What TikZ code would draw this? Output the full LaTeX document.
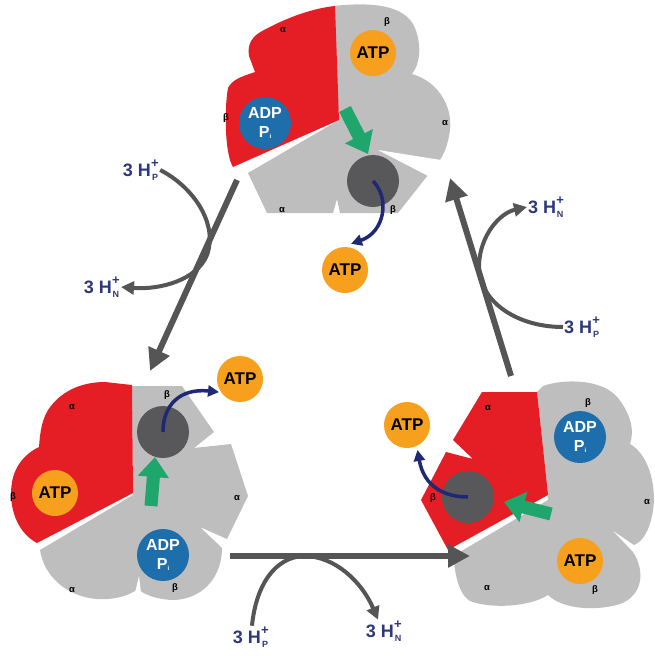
\documentclass[tikz,border=0pt]{standalone}
\usepackage{fontspec}
\setmainfont{Liberation Sans}
\usetikzlibrary{arrows.meta}

\definecolor{subred}{RGB}{228,30,36}
\definecolor{subgray}{RGB}{190,190,190}
\definecolor{coregray}{RGB}{88,88,90}
\definecolor{atporange}{RGB}{246,160,30}
\definecolor{adpblue}{RGB}{30,110,172}
\definecolor{pushgreen}{RGB}{30,166,108}
\definecolor{flowgray}{RGB}{85,85,85}
\definecolor{navyarrow}{RGB}{30,40,115}
\definecolor{protonblue}{RGB}{45,55,125}

% "3 H" with a stacked superscript + and a side subscript (P or N)
\newcommand\protons[1]{3 H\raisebox{-0.2em}{\makebox[8pt][c]{\fontsize{9}{9}\selectfont #1}}\hspace{-8pt}\raisebox{0.5em}{\makebox[8pt][c]{\fontsize{13}{13}\selectfont +}}}
% inorganic phosphate with a small subscript i
\newcommand\phosph{P\raisebox{-0.1em}{\fontsize{6}{6}\selectfont i}}

\tikzset{
  atp/.style={circle, fill=atporange, minimum size=46pt, inner sep=0pt,
    font=\fontsize{17}{17}\selectfont\bfseries, text=black},
  adp/.style={circle, fill=adpblue, minimum size=52pt, inner sep=0pt,
    font=\fontsize{16}{19}\selectfont\bfseries, text=white, align=center},
  core/.style={circle, fill=coregray, minimum size=52pt, inner sep=0pt},
  sub/.style={font=\fontsize{9.5}{9.5}\selectfont\bfseries, inner sep=0pt},
  lobe/.style={fill=subgray},
  redpair/.style={fill=subred},
  gap/.style={fill=white},
  flow/.style={draw=flowgray, line width=6pt, -{Triangle[width=22pt,length=22pt]}},
  side/.style={draw=flowgray, line width=4pt, -{Triangle[width=13pt,length=13pt]}},
  release/.style={draw=navyarrow, line width=3.5pt, -{Triangle[width=11pt,length=11pt]}},
  push/.style={draw=pushgreen, line width=13pt, -{Triangle[width=30pt,length=20pt]}},
  proton/.style={text=protonblue, font=\fontsize{18}{18}\selectfont\bfseries, inner sep=1pt},
}

\begin{document}
\begin{tikzpicture}[x=1pt,y=-1pt]
\useasboundingbox (0,0) rectangle (654,656);

% ---------- top F1 head ----------
\path[lobe] (333,6) .. controls (370,2) and (405,4) .. (415,28)
  .. controls (422,46) and (420,64) .. (412,74)
  .. controls (440,82) and (455,110) .. (449,136)
  .. controls (446,152) and (440,162) .. (434,166)
  -- (428,175) -- (398,213) -- (340,213) -- (337,199) -- (333,213)
  -- (267,213) -- (248,173) -- (339,120) -- cycle;
\path[gap] (441,160) -- (432,178) -- (378,150) -- cycle;
\path[redpair] (335,6) -- (339,120) -- (233,167)
  .. controls (225,155) and (224,110) .. (228,88)
  .. controls (232,80) and (240,77) .. (255,72)
  -- (249,56) .. controls (247,44) and (252,36) .. (264,30)
  .. controls (290,16) and (315,8) .. (335,6) -- cycle;
\node[core] (coreT) at (373,181) {};
\node[atp] (atpT) at (373,53) {ATP};
\node[adp] (adpT) at (265,123) {ADP\\\phosph};
\draw[push] (345,109) -- (368,154);
\node[sub] (tA1) at (283,30) {α};
\node[sub] (tB1) at (387,22) {β};
\node[sub] (tA2) at (445,123) {α};
\node[sub] (tB2) at (226,118) {β};
\node[sub] (tA3) at (282,210) {α};
\node[sub] (tB3) at (393,210) {β};
\node[atp] (atpTout) at (345,270) {ATP};
\draw[release] (coreT.center) .. controls (390,198) and (385,232) .. ([xshift=6pt,yshift=3pt]atpTout.north);

% ---------- lower left F1 head ----------
\path[lobe] (132,386) -- (182,386) -- (214,432) -- (194,448) -- (231,444)
  -- (248,496) -- (227,539) -- (200,527) -- (222,548)
  .. controls (222,575) and (205,598) .. (175,600)
  .. controls (160,600) and (146,596) .. (138,589)
  .. controls (127,597) and (112,600) .. (96,599)
  .. controls (66,596) and (44,576) .. (40,550)
  -- (133,495) -- cycle;
\path[gap] (135,593) -- (141,593) -- (139,576) -- cycle;
\path[redpair] (132,385) -- (133,493) -- (37,543)
  .. controls (16,532) and (8,505) .. (12,482)
  .. controls (15,465) and (26,453) .. (39,447)
  .. controls (40,432) and (42,420) .. (48,410)
  .. controls (60,392) and (80,382) .. (105,382) -- cycle;
\node[core] (coreL) at (163,432) {};
\node[atp] (atpL) at (55,493) {ATP};
\node[adp] (adpL) at (163,555) {ADP\\\phosph};
\draw[push] (151,506) -- (155,457);
\node[sub] (lA1) at (72,407) {α};
\node[sub] (lB1) at (13,497) {β};
\node[sub] (lB2) at (167,395) {β};
\node[sub] (lA2) at (237,498) {α};
\node[sub] (lA3) at (72,590) {α};
\node[sub] (lB3) at (175,588) {β};
\node[atp] (atpLout) at (240,379) {ATP};
\draw[release, shorten >=2pt] (coreL.center) .. controls (163,405) and (180,388) .. (atpLout.215);

% ---------- lower right F1 head ----------
\path[lobe] (537,392) -- (543,386) .. controls (562,379) and (602,378) .. (618,398)
  .. controls (630,413) and (635,430) .. (630,444)
  .. controls (650,455) and (659,492) .. (651,520)
  .. controls (647,535) and (641,542) .. (634,545)
  -- (612,530) -- (633,552)
  .. controls (646,572) and (642,596) .. (620,604)
  .. controls (598,611) and (563,610) .. (548,595)
  .. controls (530,607) and (490,609) .. (470,601)
  .. controls (457,593) and (455,570) .. (453,556)
  -- (548,500) -- cycle;
\path[redpair] (482,392) -- (537,392) -- (548,495) -- (448,550) -- (421,500)
  -- (446,452) -- (473,459) -- (453,440) -- cycle;
\node[core] (coreR) at (468,497) {};
\node[atp] (atpR) at (580,561) {ATP};
\node[adp] (adpR) at (580,437) {ADP\\\phosph};
\draw[push] (551,514) -- (504,502);
\node[sub] (rA1) at (488,408) {α};
\node[sub] (rB1) at (433,498) {β};
\node[sub] (rB2) at (588,403) {β};
\node[sub] (rA2) at (647,502) {α};
\node[sub] (rA3) at (487,588) {α};
\node[sub] (rB3) at (595,590) {β};
\node[atp] (atpRout) at (407,425) {ATP};
\draw[release, shorten >=4pt] (coreR.center) .. controls (445,497) and (424,487) .. (atpRout.-65);

% ---------- proton labels and their curved arrows ----------
\node[proton] (hpL) at (141,170) {\protons{P}};
\node[proton, anchor=east] (hnL) at (121,287) {\protons{N}};
\node[proton, anchor=west] (hnR) at (527,207) {\protons{N}};
\node[proton, anchor=west] (hpR) at (563,327) {\protons{P}};
\node[proton] (hpB) at (251,637) {\protons{P}};
\node[proton] (hnB) at (384,631) {\protons{N}};

\draw[side] (hpL.east) .. controls (195,188) and (218,225) .. (207,255)
  .. controls (197,280) and (160,290) .. (hnL.east);
\draw[side] (hpR.west) .. controls (515,327) and (478,300) .. (479,265)
  .. controls (480,235) and (500,213) .. (hnR.west);
\draw[side] ([xshift=1pt]hpB.north) .. controls (256,585) and (275,557) .. (304,556)
  .. controls (335,556) and (362,582) .. ([xshift=-6pt]hnB.north);

% ---------- main cycle arrows ----------
\coordinate (c1a) at (237,180);
\coordinate (c1b) at (150,371);
\coordinate (c2a) at (230,556);
\coordinate (c2b) at (470,556);
\coordinate (c3a) at (511,376);
\coordinate (c3b) at (450,178);
\draw[flow] (c1a) -- (c1b);
\draw[flow] (c2a) -- (c2b);
\draw[flow] (c3a) -- (c3b);
\end{tikzpicture}
\end{document}
